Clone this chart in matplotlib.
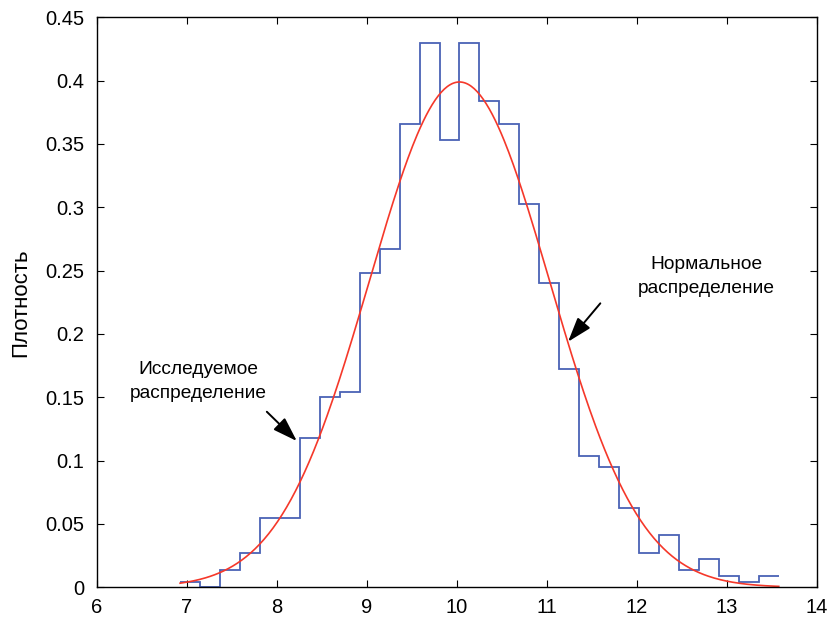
import numpy as np
import matplotlib
matplotlib.use("Agg")
import matplotlib.pyplot as plt

plt.rcParams["font.family"] = ["Liberation Sans", "DejaVu Sans"]

# histogram of the studied sample (density per bin)
x_min = 6.928
x_max = 13.575
density = [0.0045, 0.0, 0.0136, 0.0273, 0.0545, 0.0545, 0.118, 0.150, 0.154, 0.248,
           0.267, 0.366, 0.430, 0.353, 0.430, 0.384, 0.366, 0.303, 0.240, 0.172,
           0.104, 0.095, 0.063, 0.027, 0.041, 0.0136, 0.0227, 0.009, 0.0045, 0.009]

# fitted normal distribution
mu = 10.03
sigma = 1.0

x_ticks = [6, 7, 8, 9, 10, 11, 12, 13, 14]
y_ticks = [0, 0.05, 0.1, 0.15, 0.2, 0.25, 0.3, 0.35, 0.4, 0.45]
y_tick_labels = ["0", "0.05", "0.1", "0.15", "0.2", "0.25", "0.3", "0.35", "0.4", "0.45"]

edges = np.linspace(x_min, x_max, len(density) + 1)
xs = np.linspace(x_min, x_max, 400)
pdf = np.exp(-(xs - mu) ** 2 / (2 * sigma ** 2)) / (sigma * np.sqrt(2 * np.pi))

fig = plt.figure(figsize=(8.32, 6.25), dpi=100)
ax = fig.add_axes([0.116, 0.0603, 0.866, 0.912])

ax.stairs(density, edges, baseline=None, color="#4a62b5", linewidth=1.3)
ax.plot(xs, pdf, color="#f5382a", linewidth=1.2)

ax.set_xlim(6, 14)
ax.set_ylim(0, 0.45)
ax.set_xticks(x_ticks)
ax.set_yticks(y_ticks)
ax.set_yticklabels(y_tick_labels)
ax.tick_params(direction="in", top=True, right=True, labelsize=14.5, length=5)
ax.tick_params(axis="y", pad=9)
ax.tick_params(axis="x", pad=8)
ax.set_ylabel("Плотность", fontsize=16, labelpad=10)
for s in ax.spines.values():
    s.set_linewidth(1.0)

arrow = dict(arrowstyle="-|>,head_length=1.5,head_width=0.5", color="black",
             lw=1.4, shrinkA=0, shrinkB=0)
ax.annotate("", xy=(8.224, 0.1155), xytext=(7.891, 0.1386), arrowprops=arrow)
ax.annotate("", xy=(11.236, 0.1939), xytext=(11.594, 0.2242), arrowprops=arrow)
ax.text(7.128, 0.1625, "Исследуемое\nраспределение", ha="center", va="center",
        fontsize=13.8, linespacing=1.55)
ax.text(12.772, 0.2452, "Нормальное\nраспределение", ha="center", va="center",
        fontsize=13.8, linespacing=1.55)

fig.savefig("out.png", dpi=100)
